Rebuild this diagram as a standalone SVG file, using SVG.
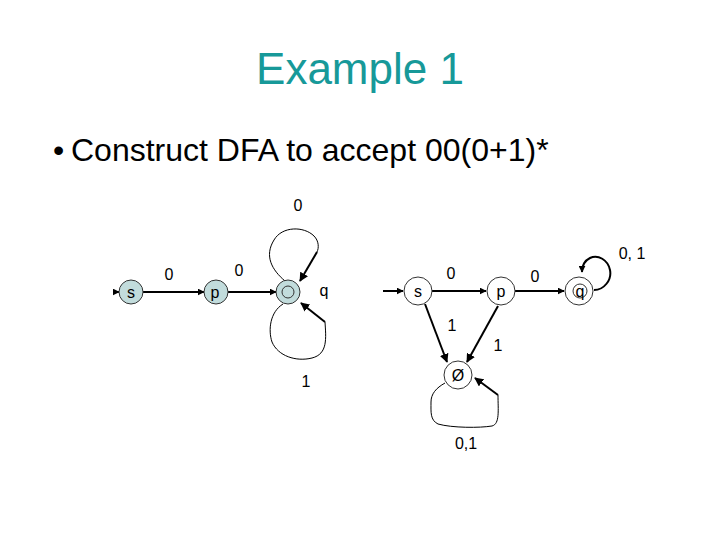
<svg xmlns="http://www.w3.org/2000/svg" width="720" height="540" viewBox="0 0 720 540">
<defs>
<style>
.t{font-family:"Liberation Sans",Arial,sans-serif;fill:#000}
.lbl{font-size:16px;text-anchor:middle}
.e{fill:none;stroke:#000;stroke-width:2}
.loop{fill:none;stroke:#000;stroke-width:1}
.n1{fill:#c2dcdc;stroke:#333;stroke-width:1}
.n2{fill:#fff;stroke:#333;stroke-width:1}
</style>
<marker id="ah" viewBox="0 0 10 10" refX="9" refY="5" markerWidth="7" markerHeight="7" markerUnits="userSpaceOnUse" orient="auto"><path d="M0,0 L10,5 L0,10 z" fill="#000"/></marker>
<marker id="ahb" viewBox="0 0 10 10" refX="9" refY="5" markerWidth="9" markerHeight="9" markerUnits="userSpaceOnUse" orient="auto"><path d="M0,0 L10,5 L0,10 z" fill="#000"/></marker>
</defs>
<rect width="720" height="540" fill="#fff"/>
<text class="t" x="360" y="84" font-size="44" text-anchor="middle" style="fill:#179999">Example 1</text>
<text class="t" x="53" y="161" font-size="32">•</text>
<text class="t" x="71" y="161" font-size="32">Construct DFA to accept 00(0+1)*</text>

<g id="connectors">
<line class="e" x1="113" y1="292" x2="119" y2="292" marker-end="url(#ah)"/>
<line class="e" x1="143" y1="292" x2="204" y2="292" marker-end="url(#ah)"/>
<line class="e" x1="228" y1="292" x2="276" y2="292" marker-end="url(#ah)"/>
<path class="loop" d="M285,281 C272,270 264,256 274,240 C282,226 304,226 314,236 C319,241 319,248 317,252"/>
<line class="e" x1="317" y1="252" x2="300" y2="281" marker-end="url(#ahb)"/>
<path class="loop" d="M283,304 C270,312 268,330 272,342 C278,356 296,362 312,358 C328,354 326,338 325,322"/>
<line class="e" x1="325" y1="322" x2="301" y2="303" marker-end="url(#ahb)"/>
<line class="e" x1="383" y1="291" x2="403" y2="291" marker-end="url(#ah)"/>
<line class="e" x1="432" y1="291" x2="486" y2="291" marker-end="url(#ah)"/>
<line class="e" x1="515" y1="291" x2="564" y2="291" marker-end="url(#ah)"/>
<path class="e" d="M594,290 C604,290 612,280 610,270 C608,260 598,254 590,258 C584,261 582,266 582,272" marker-end="url(#ah)"/>
<line class="e" x1="425" y1="304" x2="447" y2="362" marker-end="url(#ahb)"/>
<line class="e" x1="498" y1="306" x2="467" y2="362" marker-end="url(#ahb)"/>
<path class="loop" d="M445,383 C436,388 431,394 431,402 C431,412 430,420 438,424 C452,428 480,428 492,426 C500,424 498,410 498,395"/>
<line class="e" x1="498" y1="395" x2="475" y2="378" marker-end="url(#ahb)"/>
</g>

<g id="node-s1"><circle class="n1" cx="131" cy="292" r="12"/><text class="t lbl" x="131" y="298">s</text></g>
<g id="node-p1"><circle class="n1" cx="216" cy="292" r="12"/><text class="t lbl" x="215" y="298">p</text></g>
<g id="node-q1"><circle class="n1" cx="288" cy="292" r="12"/><circle cx="288" cy="292" r="6" fill="none" stroke="#333" stroke-width="1"/></g>
<g id="labels-left">
<text class="t lbl" x="169" y="280">0</text>
<text class="t lbl" x="239" y="276">0</text>
<text class="t lbl" x="324" y="296">q</text>
<text class="t lbl" x="298" y="211">0</text>
<text class="t lbl" x="306" y="387">1</text>
</g>

<g id="node-s2"><circle class="n2" cx="418" cy="291" r="14"/><text class="t lbl" x="418" y="297">s</text></g>
<g id="node-p2"><circle class="n2" cx="501" cy="291" r="14"/><text class="t lbl" x="501" y="297">p</text></g>
<g id="node-q2"><circle class="n2" cx="579" cy="291" r="14"/><circle cx="580" cy="291" r="7" fill="none" stroke="#333" stroke-width="1"/><text class="t lbl" x="580" y="297">q</text></g>
<g id="node-empty"><circle class="n2" cx="458" cy="375" r="14"/><text class="t lbl" x="458" y="381">Ø</text></g>
<g id="labels-right">
<text class="t lbl" x="451" y="279">0</text>
<text class="t lbl" x="535" y="282">0</text>
<text class="t lbl" x="632" y="259">0, 1</text>
<text class="t lbl" x="452" y="331">1</text>
<text class="t lbl" x="498" y="351">1</text>
<text class="t lbl" x="466" y="449">0,1</text>
</g>
</svg>
